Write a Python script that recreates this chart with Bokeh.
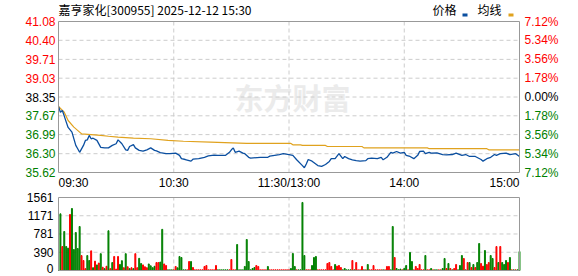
from bokeh.plotting import figure
from bokeh.models import Range1d, ColumnDataSource
from bokeh.embed import file_html
from bokeh.resources import INLINE
from bokeh.core.properties import value

# ---------------- data ----------------
title_text = "嘉亨家化[300955] 2025-12-12 15:30"
legend_names = ["价格", "均线"]
watermark = "东方财富"
prev_close = 38.35
price_ticks = [35.62, 36.30, 36.99, 37.67, 38.35, 39.03, 39.71, 40.40, 41.08]
pct_labels = ["7.12%", "5.34%", "3.56%", "1.78%", "0.00%", "1.78%", "3.56%", "5.34%", "7.12%"]
time_ticks = [0, 60, 120, 180, 240]
time_labels = ["09:30", "10:30", "11:30/13:00", "14:00", "15:00"]
vol_ticks = [0, 390, 781, 1171, 1561]

price_t = [0, 1, 2, 3, 4, 5, 7, 9, 10, 11, 13, 14, 15, 16, 17, 18, 20, 22, 24, 26, 28, 30, 31, 33, 35, 36, 37,
           39, 40, 42, 44, 46, 48, 50, 51, 53, 56, 58, 61, 63, 64, 66, 69, 70, 73, 76, 78, 81, 83, 87, 89,
           90, 91, 92, 94, 96, 97, 99, 100, 105, 109, 110, 115, 117, 120, 122, 124, 127, 128, 129, 130, 132,
           135, 137, 139, 141, 142, 144, 146, 148, 149, 151, 153, 155, 157, 160, 161, 163, 166, 168, 169,
           171, 173, 174, 176, 178, 180, 181, 183, 185, 187, 188, 190, 191, 193, 194, 197, 200, 202, 205,
           207, 210, 212, 214, 217, 220, 221, 223, 225, 227, 228, 230, 233, 235, 238, 240]
price_v = [38.01, 37.80, 37.86, 37.66, 37.45, 37.25, 37.08, 36.60, 36.48, 36.35, 36.60, 36.78, 36.80, 36.96,
           36.84, 36.86, 36.78, 36.53, 36.51, 36.51, 36.60, 36.66, 36.80, 36.66, 36.44, 36.42, 36.56,
           36.63, 36.51, 36.42, 36.39, 36.44, 36.51, 36.42, 36.40, 36.34, 36.30, 36.30, 36.32, 36.24, 36.12,
           36.09, 36.03, 36.10, 36.12, 36.17, 36.22, 36.25, 36.24, 36.24, 36.35,
           36.44, 36.51, 36.35, 36.39, 36.32, 36.30, 36.17, 36.14, 36.17, 36.17, 36.21, 36.27, 36.30, 36.27,
           36.24, 36.08, 35.87, 35.79, 35.93, 36.09, 36.03,
           35.87, 35.84, 35.91, 36.02, 36.12, 36.12, 36.30, 36.12, 36.20, 36.12, 36.08, 36.05, 36.03, 36.05,
           36.12, 36.14, 36.12, 36.17, 36.08,
           36.17, 36.35, 36.32, 36.38, 36.32, 36.35, 36.24, 36.20, 36.12, 36.24, 36.38, 36.39, 36.30, 36.35,
           36.32, 36.33, 36.27, 36.26, 36.27,
           36.32, 36.24, 36.27, 36.20, 36.20, 36.09, 36.03, 36.12, 36.17, 36.27, 36.24, 36.30, 36.32, 36.27,
           36.30, 36.20]

avg_t = [0, 3, 5, 8, 11, 12, 17, 22, 26, 31, 39, 48, 57, 65, 79, 98, 121, 122, 126, 127, 139, 140, 158,
         159, 192, 193, 223, 224, 240]
avg_v = [38.01, 37.80, 37.50, 37.26, 37.08, 37.02, 36.99, 36.96, 36.93, 36.90, 36.86, 36.84, 36.78, 36.75,
         36.72, 36.67, 36.67, 36.62, 36.62, 36.60, 36.60, 36.56, 36.56, 36.51, 36.51, 36.48, 36.48, 36.44,
         36.44]

volume = [0, 1212, 513, 834, 513, 478, 1198, 1326, 449, 813,
          470, 941, 320, 214, 40, 320, 214, 420, 60, 200,
          120, 160, 360, 70, 40, 90, 850, 40, 170, 300,
          30, 300, 130, 210, 60, 360, 80, 40, 60, 40,
          360, 60, 260, 150, 120, 80, 60, 140, 100, 60,
          90, 170, 170, 180, 880, 140, 107, 15, 15, 15,
          15, 86, 57, 300, 278, 15, 15, 15, 192, 192,
          64, 15, 15, 15, 15, 15, 86, 107, 15, 15,
          15, 15, 107, 15, 15, 15, 15, 15, 15, 15,
          235, 15, 15, 556, 15, 15, 15, 86, 663, 192,
          15, 43, 64, 107, 86, 15, 15, 15, 15, 86,
          15, 15, 15, 15, 15, 15, 15, 15, 15, 15,
          15, 43, 364, 86, 15, 15, 15, 1455, 321, 15,
          15, 15, 107, 278, 300, 15, 15, 15, 15, 15,
          150, 171, 86, 15, 128, 93, 107, 64, 15, 43,
          15, 15, 15, 214, 15, 171, 15, 15, 86, 15,
          15, 128, 15, 15, 107, 15, 15, 15, 15, 15,
          15, 86, 86, 15, 941, 278, 43, 15, 30, 15,
          43, 107, 15, 385, 192, 15, 86, 43, 128, 15,
          15, 321, 15, 15, 43, 15, 15, 15, 15, 15,
          43, 257, 43, 150, 43, 15, 43, 128, 15, 107,
          321, 257, 15, 171, 171, 64, 128, 64, 171, 577,
          150, 93, 428, 128, 171, 321, 257, 64, 513, 171,
          513, 171, 128, 214, 171, 278, 15, 15, 15, 15,
          406]
vol_dir = list(
    "ggrgggrggg" "ggrrrggrgr" "grgrgrgrgr" "rrggrgrgrg" "rrggrrrggg"
    "grrggrrggg" "rrgggggrrg" "rrrrrrrrrr" "rrrggggggr" "rrrggggggg"
    "gggrrrrrrg" "rrrrrrrrrr" "rgggrggggr" "rrgggrrrrr" "rrrrgrrrgg"
    "gggrgrrrrg" "rgrrrrrrrg" "rrrggrgggr" "ggrggrrrrr" "rgrrgrggrr"
    "ggrgrgrrgg" "grgrgrgrgg" "rrgrrggrrg" "rgggrgrgrg" "g")

# ---------------- layout (pixels) & style ----------------
W, H = 578, 276
FX0, FX1 = 58, 519          # plot boxes left/right
PY0, PY1 = 21, 172          # price box top/bottom
VY0, VY1 = 197, 270         # volume box top/bottom
RED = "#ff0000"
GREEN = "#008000"
GRID = "#cccccc"
BORDER = "#999999"
BLUE = "#0b4fa0"
GOLD = "#e0a21e"
NUM_FONT = value("Liberation Sans")
CJK_FONT = value("Noto Sans CJK SC")

pxx = (FX1 - FX0) / (time_ticks[-1] - time_ticks[0])
ppy = (price_ticks[-1] - price_ticks[0]) / (PY1 - PY0)
vpy = (vol_ticks[-1] - vol_ticks[0]) / (VY1 - VY0)


def xd(px):
    return time_ticks[0] + (px - FX0) / pxx


def yp(py):
    return price_ticks[-1] - (py - PY0) * ppy


def yv(py):
    return vol_ticks[0] + (VY1 - py) * vpy


p = figure(width=W, height=H, output_backend="svg", toolbar_location=None,
           x_range=Range1d(xd(0), xd(W)), y_range=Range1d(yp(H), yp(0)),
           x_axis_location=None, y_axis_location=None,
           min_border=0, min_border_left=0, min_border_right=0,
           min_border_top=0, min_border_bottom=0)
p.extra_y_ranges = {"vol": Range1d(yv(H), yv(0))}
p.outline_line_color = None
p.xgrid.visible = False
p.ygrid.visible = False
p.background_fill_color = "white"
p.border_fill_color = "white"

# watermark
p.text(x=[xd(292)], y=[yp(96)], text=[watermark], text_color="#ebebeb",
       text_font=CJK_FONT, text_font_size="29px", text_font_style="bold",
       text_align="center", text_baseline="middle")

# grid lines
gx = time_ticks[1:-1]
p.segment(x0=gx, x1=gx, y0=[price_ticks[0]] * len(gx), y1=[price_ticks[-1]] * len(gx),
          line_color=GRID, line_dash="4 3", line_width=1)
gy = price_ticks[1:-1]
p.segment(x0=[time_ticks[0]] * len(gy), x1=[time_ticks[-1]] * len(gy), y0=gy, y1=gy,
          line_color=GRID, line_dash="4 3", line_width=1)
p.segment(x0=gx, x1=gx, y0=[vol_ticks[0]] * len(gx), y1=[vol_ticks[-1]] * len(gx),
          line_color=GRID, line_dash="4 3", line_width=1, y_range_name="vol")
gv = vol_ticks[1:-1]
p.segment(x0=[time_ticks[0]] * len(gv), x1=[time_ticks[-1]] * len(gv), y0=gv, y1=gv,
          line_color=GRID, line_dash="4 3", line_width=1, y_range_name="vol")

# volume bars
src = ColumnDataSource(dict(
    x=list(range(len(volume))),
    top=volume,
    color=[RED if d == "r" else GREEN for d in vol_dir],
))
p.vbar(x="x", top="top", bottom=0, width=0.5, color="color", source=src, y_range_name="vol")

# price & average
p.line(avg_t, avg_v, line_color=GOLD, line_width=1.2)
p.line(price_t, price_v, line_color=BLUE, line_width=1.3)

# boxes
p.quad(left=[time_ticks[0]], right=[time_ticks[-1]], bottom=[price_ticks[0]], top=[price_ticks[-1]],
       fill_color=None, line_color=BORDER, line_width=1)
p.quad(left=[time_ticks[0]], right=[time_ticks[-1]], bottom=[vol_ticks[0]], top=[vol_ticks[-1]],
       fill_color=None, line_color=BORDER, line_width=1, y_range_name="vol")

# price axis labels (left values, right percentages)
colors = []
for v in price_ticks:
    if abs(v - prev_close) < 1e-6:
        colors.append("#000000")
    elif v > prev_close:
        colors.append(RED)
    else:
        colors.append(GREEN)
p.text(x=[time_ticks[0]] * len(price_ticks), y=price_ticks, text=[f"{v:.2f}" for v in price_ticks],
       text_color=colors, text_font=NUM_FONT, text_font_size="12px",
       text_align="right", text_baseline="middle", x_offset=-3)
p.text(x=[time_ticks[-1]] * len(price_ticks), y=price_ticks, text=pct_labels,
       text_color=colors, text_font=NUM_FONT, text_font_size="12px",
       text_align="left", text_baseline="middle", x_offset=5)

# time labels
aligns = ["left", "center", "center", "center", "right"]
p.text(x=time_ticks, y=[yp(182)] * len(time_ticks), text=time_labels, text_color="#000000",
       text_font=NUM_FONT, text_font_size="12px", text_align=aligns, text_baseline="middle")

# volume axis labels (bottom one nudged up so it stays inside the page)
vol_yoff = [-2 if v == vol_ticks[0] else 0 for v in vol_ticks]
p.text(x=[time_ticks[0]] * len(vol_ticks), y=vol_ticks, text=[str(v) for v in vol_ticks],
       text_color="#000000", text_font=NUM_FONT, text_font_size="12px",
       text_align="right", text_baseline="middle", x_offset=-5, y_offset=vol_yoff,
       y_range_name="vol")

# title and legend
p.text(x=[time_ticks[0]], y=[yp(9)], text=[title_text], text_color="#000000",
       text_font=CJK_FONT, text_font_size="12px", text_align="left", text_baseline="middle")
p.text(x=[xd(432), xd(477)], y=[yp(9)] * 2, text=legend_names, text_color="#000000",
       text_font=CJK_FONT, text_font_size="12px", text_align="left", text_baseline="middle")
p.rect(x=[xd(464.5), xd(510.5)], y=[yp(14.5)] * 2, width=5, height=3,
       width_units="screen", height_units="screen", fill_color=[BLUE, GOLD], line_color=None)

open("out.html", "w").write(file_html(p, INLINE))
